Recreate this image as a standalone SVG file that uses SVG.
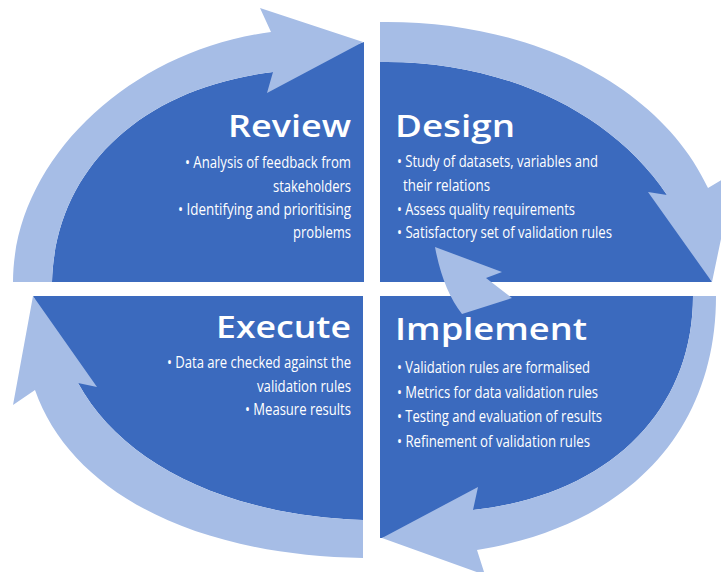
<svg xmlns="http://www.w3.org/2000/svg" width="721" height="572" viewBox="0 0 721 572">
<style>
.dark{fill:#3b6abe}
.light{fill:#a6bde6}
.h{font-family:"Open Sans","Liberation Sans",sans-serif;font-weight:600;font-size:31px;fill:#fff}
.b{font-family:"Open Sans","Liberation Sans",sans-serif;font-size:16px;fill:#fff}
.e{text-anchor:end}
</style>
<rect width="721" height="572" fill="#fff"/>
<g id="review">
<path class="dark" d="M364,282 L52,282 C55,170 140,88 273,72 L364,42 Z"/>
</g>
<g id="design">
<path class="dark" d="M380,282 L380,62 C500,60 610,110 667,195 L712,282 Z"/>
</g>
<g id="implement">
<path class="dark" d="M380,296 L693,296 C693,410 610,495 473,510 L382,538 L380,538 Z"/>
</g>
<g id="execute">
<path class="dark" d="M33,296 L363,296 L363,520 C220,515 120,460 78,383 Z"/>
</g>
<g id="connectors">
<path class="light" d="M13,282 C13,160 130,50 271,32 L260,8 L363,42 L267,93 L273,72 C140,88 55,170 52,282 Z"/>
<path class="light" d="M380,22 C530,20 660,85 708,188 L735,172 L712,282 L648,192 L667,195 C610,110 500,60 380,62 Z"/>
<path class="light" d="M716,296 C716,430 630,525 477,550 L485,575 L382,538 L478,487 L473,510 C610,495 693,410 693,296 Z"/>
<path class="light" d="M363,558 C190,555 70,490 35,390 L13,405 L33,296 L97,387 L78,383 C120,460 220,515 363,520 Z"/>
<path class="light" d="M435,247 L502,272 L486,278 L512,298 L462,314 Q443,290 435,247 Z"/>
</g>
<g id="review-text">
<text class="h e" x="351" y="137" textLength="123" lengthAdjust="spacingAndGlyphs">Review</text>
<text class="b e" x="351" y="168" textLength="166" lengthAdjust="spacingAndGlyphs">• Analysis of feedback from</text>
<text class="b e" x="351" y="192" textLength="78" lengthAdjust="spacingAndGlyphs">stakeholders</text>
<text class="b e" x="351" y="215" textLength="173" lengthAdjust="spacingAndGlyphs">• Identifying and prioritising</text>
<text class="b e" x="351" y="238" textLength="58" lengthAdjust="spacingAndGlyphs">problems</text>
</g>
<g id="design-text">
<text class="h" x="395" y="137" textLength="120" lengthAdjust="spacingAndGlyphs">Design</text>
<text class="b" x="397" y="167" textLength="201" lengthAdjust="spacingAndGlyphs">• Study of datasets, variables and</text>
<text class="b" x="403" y="191" textLength="87" lengthAdjust="spacingAndGlyphs">their relations</text>
<text class="b" x="397" y="215" textLength="178" lengthAdjust="spacingAndGlyphs">• Assess quality requirements</text>
<text class="b" x="397" y="238" textLength="215" lengthAdjust="spacingAndGlyphs">• Satisfactory set of validation rules</text>
</g>
<g id="execute-text">
<text class="h e" x="351" y="338" textLength="135" lengthAdjust="spacingAndGlyphs">Execute</text>
<text class="b e" x="351" y="368" textLength="184" lengthAdjust="spacingAndGlyphs">• Data are checked against the</text>
<text class="b e" x="351" y="392" textLength="94" lengthAdjust="spacingAndGlyphs">validation rules</text>
<text class="b e" x="351" y="415" textLength="106" lengthAdjust="spacingAndGlyphs">• Measure results</text>
</g>
<g id="implement-text">
<text class="h" x="395" y="340" textLength="192" lengthAdjust="spacingAndGlyphs">Implement</text>
<text class="b" x="397" y="373" textLength="193" lengthAdjust="spacingAndGlyphs">• Validation rules are formalised</text>
<text class="b" x="397" y="398" textLength="201" lengthAdjust="spacingAndGlyphs">• Metrics for data validation rules</text>
<text class="b" x="397" y="422" textLength="205" lengthAdjust="spacingAndGlyphs">• Testing and evaluation of results</text>
<text class="b" x="397" y="447" textLength="193" lengthAdjust="spacingAndGlyphs">• Refinement of validation rules</text>
</g>
</svg>
